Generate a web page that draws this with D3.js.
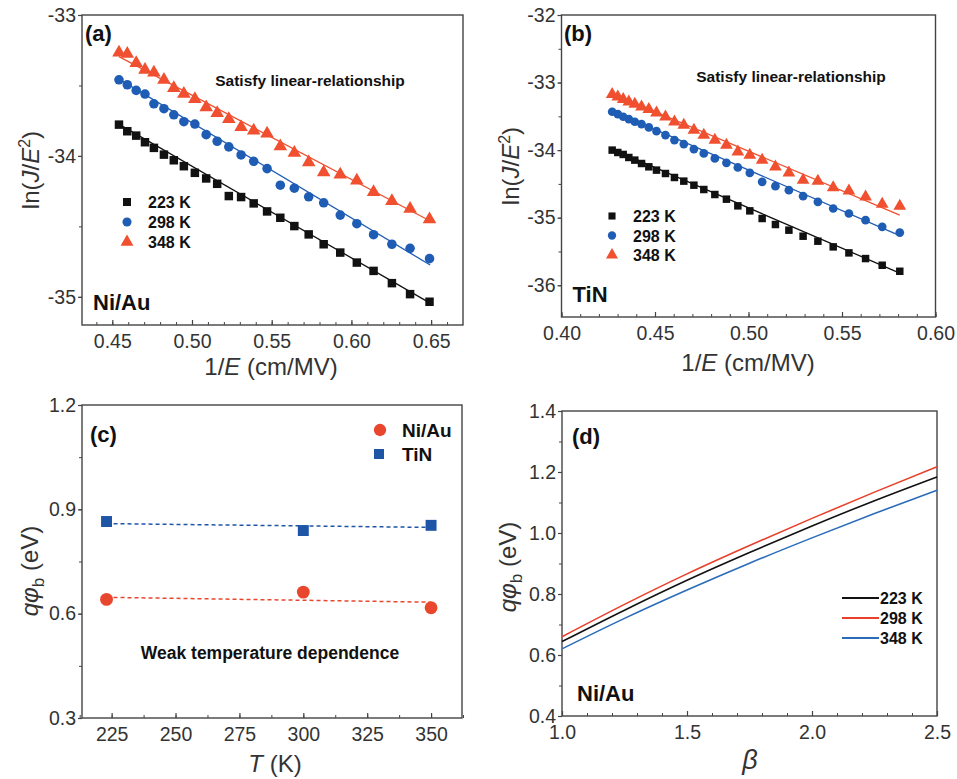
<!DOCTYPE html>
<html><head><meta charset="utf-8">
<script src="https://cdn.jsdelivr.net/npm/d3@7"></script>
<style>
body{margin:0;background:#fff;}
text{font-family:"Liberation Sans",Arial,sans-serif;}
</style></head><body>
<svg id="c" width="957" height="779"></svg>
<script>
// ---------- DATA ----------
const tempLabels = ["223 K","298 K","348 K"];
// Panel (a) Ni/Au
const a_x = [0.4542,0.4594,0.4650,0.4705,0.4761,0.4824,0.4886,0.4949,0.5018,0.5089,0.5158,0.5231,0.5308,0.5387,0.5471,0.5554,0.5642,0.5732,0.5826,0.5930,0.6034,0.6139,0.6254,0.6368,0.6490];
const a_223 = [-33.778,-33.825,-33.856,-33.903,-33.943,-33.991,-34.031,-34.073,-34.120,-34.160,-34.198,-34.285,-34.292,-34.337,-34.394,-34.439,-34.498,-34.557,-34.627,-34.686,-34.757,-34.816,-34.903,-34.981,-35.035];
const a_298 = [-33.460,-33.495,-33.535,-33.561,-33.630,-33.665,-33.708,-33.757,-33.774,-33.849,-33.896,-33.936,-33.993,-34.038,-34.090,-34.208,-34.229,-34.290,-34.333,-34.420,-34.481,-34.559,-34.627,-34.656,-34.729];
const a_348 = [-33.267,-33.276,-33.342,-33.389,-33.408,-33.460,-33.519,-33.559,-33.597,-33.656,-33.696,-33.738,-33.795,-33.821,-33.842,-33.932,-33.979,-34.045,-34.116,-34.132,-34.175,-34.257,-34.321,-34.375,-34.450];
// fit line endpoints [x0,y0,x1,y1]
const a_fit = [[0.4535,-33.771,0.6494,-35.045],[0.4542,-33.455,0.6494,-34.774],[0.4542,-33.295,0.6494,-34.462]];
// Panel (b) TiN
const b_x = [0.4271,0.4301,0.4330,0.4360,0.4392,0.4428,0.4467,0.4508,0.4556,0.4604,0.4654,0.4708,0.4761,0.4820,0.4882,0.4943,0.5007,0.5073,0.5144,0.5216,0.5292,0.5371,0.5453,0.5537,0.5626,0.5715,0.5809];
const b_223 = [-34.000,-34.035,-34.064,-34.109,-34.148,-34.198,-34.247,-34.296,-34.346,-34.405,-34.459,-34.519,-34.583,-34.657,-34.726,-34.825,-34.899,-35.012,-35.101,-35.185,-35.274,-35.348,-35.432,-35.521,-35.605,-35.704,-35.793];
const b_298 = [-33.432,-33.467,-33.506,-33.541,-33.580,-33.615,-33.664,-33.719,-33.778,-33.852,-33.911,-33.985,-34.049,-34.123,-34.188,-34.257,-34.336,-34.469,-34.533,-34.593,-34.681,-34.765,-34.864,-34.938,-35.037,-35.136,-35.220];
const b_348 = [-33.175,-33.210,-33.249,-33.284,-33.319,-33.358,-33.398,-33.447,-33.506,-33.580,-33.630,-33.704,-33.778,-33.852,-33.926,-34.025,-34.074,-34.148,-34.247,-34.336,-34.444,-34.459,-34.553,-34.602,-34.691,-34.800,-34.830];
const b_fit = [[0.4271,-33.985,0.5815,-35.827],[0.4262,-33.407,0.5815,-35.274],[0.4262,-33.151,0.5809,-34.963]];
// Panel (c)
const c_T = [223,300,350];
const c_NiAu = [0.641,0.662,0.617];
const c_TiN = [0.865,0.839,0.854];
const c_fitNiAu = [[223,0.647],[350,0.633]];
const c_fitTiN = [[223,0.859],[350,0.848]];
// Panel (d)
const d_beta = [1.0,1.25,1.5,1.75,2.0,2.25,2.5];
const d_223 = [0.644,0.747,0.845,0.936,1.023,1.106,1.184];
const d_298 = [0.660,0.766,0.866,0.959,1.048,1.134,1.217];
const d_348 = [0.620,0.720,0.813,0.901,0.984,1.064,1.140];

// ---------- STYLE ----------
const BLACK="#111", BLUE="#1f5db5", RED="#f0502f";
const TICKF=19.5, TITLEF=24;
const svg = d3.select("#c");
const hy = f => (d => f(d).replace("\u2212","-"));

function panel(o){
  const g = svg.append("g");
  const x = d3.scaleLinear().domain(o.xd).range([o.l,o.r]);
  const y = d3.scaleLinear().domain(o.yd).range([o.b,o.t]);
  const xm = d3.range(o.xmin[0], o.xmin[1]+1e-9, o.xmin[2]);
  const ym = d3.range(o.ymin[0], o.ymin[1]+1e-9, o.ymin[2]);
  g.append("g").attr("transform",`translate(0,${o.b})`)
    .call(d3.axisBottom(x).tickValues(xm).tickSize(-3).tickFormat(""))
    .call(s=>{s.select(".domain").remove(); s.selectAll("line").attr("stroke","#444");});
  g.append("g").attr("transform",`translate(${o.l},0)`)
    .call(d3.axisLeft(y).tickValues(ym).tickSize(3).tickFormat(""))
    .call(s=>{s.select(".domain").remove(); s.selectAll("line").attr("stroke","#444");});
  g.append("g").attr("transform",`translate(0,${o.b})`)
    .call(d3.axisBottom(x).tickValues(o.xt).tickSize(-5).tickPadding(9).tickFormat(o.xf))
    .call(s=>{s.select(".domain").remove(); s.selectAll("line").attr("stroke","#444").attr("stroke-width",1.2);
      s.selectAll("text").attr("font-size",TICKF).attr("fill","#333");});
  g.append("g").attr("transform",`translate(${o.l},0)`)
    .call(d3.axisLeft(y).tickValues(o.yt).tickSize(4).tickPadding(2).tickFormat(o.yf))
    .call(s=>{s.select(".domain").remove(); s.selectAll("line").attr("stroke","#444").attr("stroke-width",1.2);
      s.selectAll("text").attr("font-size",TICKF).attr("fill","#333");});
  g.append("rect").attr("x",o.l).attr("y",o.t).attr("width",o.r-o.l).attr("height",o.b-o.t)
    .attr("fill","none").attr("stroke","#444").attr("stroke-width",1.4);
  return {g,x,y};
}

function yLabelJE(g,cx,cy){
  const t=g.append("text").attr("transform",`translate(${cx},${cy}) rotate(-90)`)
    .attr("text-anchor","middle").attr("font-size",TITLEF).attr("fill","#333");
  t.append("tspan").text("ln(");
  t.append("tspan").attr("font-style","italic").text("J");
  t.append("tspan").text("/");
  t.append("tspan").attr("font-style","italic").text("E");
  t.append("tspan").attr("font-size",16).attr("dy",-9).text("2");
  t.append("tspan").attr("dy",9).text(")");
}
function xLabelE(g,cx,by){
  const t=g.append("text").attr("x",cx).attr("y",by).attr("text-anchor","middle").attr("font-size",TITLEF).attr("fill","#333");
  t.append("tspan").text("1/");
  t.append("tspan").attr("font-style","italic").text("E");
  t.append("tspan").text(" (cm/MV)");
}
function yLabelPhi(g,cx,cy){
  const t=g.append("text").attr("transform",`translate(${cx},${cy}) rotate(-90)`)
    .attr("text-anchor","middle").attr("font-size",TITLEF).attr("fill","#333");
  t.append("tspan").attr("font-style","italic").text("qφ");
  t.append("tspan").attr("font-size",17).attr("dy",6).text("b");
  t.append("tspan").attr("dy",-6).text(" (eV)");
}
function txt(g,x,y,s,size,weight,anchor){
  return g.append("text").attr("x",x).attr("y",y).attr("font-size",size).attr("font-weight",weight||"normal")
    .attr("text-anchor",anchor||"start").attr("fill","#111").text(s);
}
const sym = {sq:d3.symbolSquare, ci:d3.symbolCircle, tr:d3.symbolTriangle};

function ivPanel(o, xs, ys, fits, legendPos, name, textPos){
  const P = panel(o);
  const {g,x,y} = P;
  const cols=[BLACK,BLUE,RED], shapes=["sq","ci","tr"], sizes=o.msz;
  fits.forEach((f,i)=>{
    g.append("line").attr("x1",x(f[0])).attr("y1",y(f[1])).attr("x2",x(f[2])).attr("y2",y(f[3]))
      .attr("stroke",cols[i]).attr("stroke-width",1.3);
  });
  ys.forEach((arr,i)=>{
    g.append("g").selectAll("path").data(arr).join("path")
      .attr("d",d3.symbol(sym[shapes[i]],sizes[i]))
      .attr("transform",(d,j)=>`translate(${x(xs[j])},${y(d)})`)
      .attr("fill",cols[i]);
  });
  tempLabels.forEach((s,i)=>{
    const ly = legendPos[1]+i*legendPos[2];
    g.append("path").attr("d",d3.symbol(sym[shapes[i]],sizes[i]*0.9)).attr("transform",`translate(${legendPos[0]},${ly})`).attr("fill",cols[i]);
    txt(g,legendPos[0]+21,ly+6,s,16,"bold");
  });
  txt(g,textPos[0],textPos[1],"Satisfy linear-relationship",15.5,"bold","middle");
  txt(g,o.l+11,o.b-15,name,22,"bold");
  return P;
}

// (a)
const A = ivPanel({l:82,r:463,t:15,b:325,xd:[0.431,0.67],yd:[-35.2,-33],
  xt:[0.45,0.5,0.55,0.6,0.65],xf:d3.format(".2f"),yt:[-35,-34,-33],yf:hy(d3.format("d")),
  xmin:[0.44,0.66,0.01],ymin:[-35,-33,0.5],msz:[72,72,80]},
  a_x,[a_223,a_298,a_348],a_fit,[127,202,20],"Ni/Au",[310,86]);
txt(A.g,85,41,"(a)",22,"bold");
yLabelJE(A.g,39,170);
xLabelE(A.g,271,375);

// (b)
const B = ivPanel({l:561.5,r:935.5,t:15,b:317,xd:[0.40,0.60],yd:[-36.47,-32],
  xt:[0.40,0.45,0.5,0.55,0.6],xf:d3.format(".2f"),yt:[-36,-35,-34,-33,-32],yf:hy(d3.format("d")),
  xmin:[0.40,0.60,0.01],ymin:[-36,-32,0.5],msz:[56,60,70]},
  b_x,[b_223,b_298,b_348],b_fit,[612,216,19.5],"TiN",[791,82]);
txt(B.g,564,41,"(b)",22,"bold");
yLabelJE(B.g,519,166);
xLabelE(B.g,748,371);

// (c)
const C = panel({l:82,r:462,t:405,b:718,xd:[213.4,362.1],yd:[0.3,1.2],
  xt:[225,250,275,300,325,350],xf:d3.format("d"),yt:[0.3,0.6,0.9,1.2],yf:d3.format(".1f"),
  xmin:[212.5,362.5,12.5],ymin:[0.3,1.2,0.15]});
{
  const {g,x,y}=C;
  const line=d3.line().x(d=>x(d[0])).y(d=>y(d[1]));
  g.append("path").attr("d",line(c_fitTiN)).attr("stroke","#1e55a6").attr("stroke-width",1.5).attr("stroke-dasharray","4,3").attr("fill","none");
  g.append("path").attr("d",line(c_fitNiAu)).attr("stroke","#e8472e").attr("stroke-width",1.5).attr("stroke-dasharray","4,3").attr("fill","none");
  g.selectAll(".ti").data(c_TiN).join("path").attr("d",d3.symbol(d3.symbolSquare,120))
    .attr("transform",(d,i)=>`translate(${x(c_T[i])},${y(d)})`).attr("fill","#1e55a6");
  g.selectAll(".ni").data(c_NiAu).join("path").attr("d",d3.symbol(d3.symbolCircle,130))
    .attr("transform",(d,i)=>`translate(${x(c_T[i])},${y(d)})`).attr("fill","#e8472e");
  g.append("path").attr("d",d3.symbol(d3.symbolCircle,120)).attr("transform","translate(380,430)").attr("fill","#e8472e");
  g.append("path").attr("d",d3.symbol(d3.symbolSquare,100)).attr("transform","translate(379,454)").attr("fill","#1e55a6");
  txt(g,402,437,"Ni/Au",19,"bold");
  txt(g,402,461,"TiN",19,"bold");
  txt(g,270,659,"Weak temperature dependence",17.5,"bold","middle");
  txt(g,90,442,"(c)",22,"bold");
  yLabelPhi(g,38,571);
  const t=g.append("text").attr("x",275).attr("y",772).attr("text-anchor","middle").attr("font-size",TITLEF).attr("fill","#333");
  t.append("tspan").attr("font-style","italic").text("T");
  t.append("tspan").text(" (K)");
}

// (d)
const D = panel({l:562,r:937,t:411,b:716,xd:[1,2.5],yd:[0.4,1.4],
  xt:[1,1.5,2,2.5],xf:d3.format(".1f"),yt:[0.4,0.6,0.8,1.0,1.2,1.4],yf:d3.format(".1f"),
  xmin:[1,2.5,0.1],ymin:[0.4,1.4,0.1]});
{
  const {g,x,y}=D;
  const dcols=["#111","#e8402a","#2b6cba"];
  [d_223,d_298,d_348].forEach((arr,i)=>{
    const line=d3.line().x((d,j)=>x(d_beta[j])).y(d=>y(d)).curve(d3.curveMonotoneX);
    g.append("path").attr("d",line(arr)).attr("stroke",dcols[i]).attr("stroke-width",1.6).attr("fill","none");
    const ly=598+i*20;
    g.append("line").attr("x1",842).attr("x2",879).attr("y1",ly).attr("y2",ly).attr("stroke",dcols[i]).attr("stroke-width",2);
    txt(g,880,ly+6,tempLabels[i],16,"bold");
  });
  txt(g,572,444,"(d)",22,"bold");
  txt(g,577,701,"Ni/Au",22,"bold");
  yLabelPhi(g,516,567);
  g.append("text").attr("x",750).attr("y",769).attr("text-anchor","middle").attr("font-size",27)
    .attr("font-style","italic").attr("fill","#333").text("β");
}
</script>
</body></html>
